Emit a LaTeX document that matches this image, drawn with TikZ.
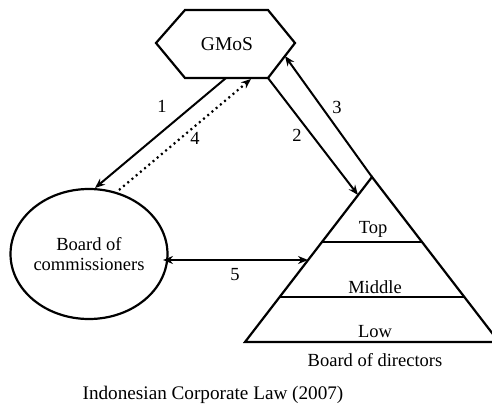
\documentclass[tikz,border=0pt]{standalone}
\usepackage{fontspec}
\setmainfont{Liberation Serif}
\usetikzlibrary{shapes.geometric,arrows.meta}
\begin{document}
\begin{tikzpicture}[x=1pt,y=-1pt,
  shape line/.style={line width=2.2pt, line join=miter},
  conn/.style={line width=2pt, -{Stealth[length=10pt,width=8pt]}},
  dotconn/.style={line width=2.2pt, dash pattern=on 2pt off 3.5pt, -{Stealth[length=10pt,width=8pt]}},
  txt/.style={font=\fontsize{18.5}{20.5}\selectfont, inner sep=0pt, align=center},
  lbl/.style={font=\fontsize{18.5}{20}\selectfont, inner sep=0pt}]
\useasboundingbox (0,0) rectangle (492,404);
% hexagon GMoS
\coordinate (hA) at (156,43);
\coordinate (hB) at (185,10);
\coordinate (hC) at (268,10);
\coordinate (hD) at (295,43);
\coordinate (hE) at (268,78);
\coordinate (hF) at (185,78);
\draw[shape line] (hA) -- (hB) -- (hC) -- (hD) -- (hE) -- (hF) -- cycle;
\node[txt, font=\fontsize{19.5}{21}\selectfont] (gmos) at (227,44) {GMoS};
% board of commissioners
\node[draw, shape line, ellipse, minimum width=148pt, minimum height=130pt, inner sep=0pt, txt] (bc) at (89,254) {Board of\\commissioners};
% pyramid
\coordinate (apex) at (372,177);
\coordinate (bl) at (245,342);
\coordinate (br) at (499,342);
\draw[shape line] (apex) -- (bl) -- (br) -- cycle;
\coordinate (tl) at (322,242);
\coordinate (tr) at (422,242);
\coordinate (ml) at (280,297);
\coordinate (mr) at (464,297);
\draw[shape line] (tl) -- (tr);
\draw[shape line] (ml) -- (mr);
\node[txt] (top) at (373,229) {Top};
\node[txt] (mid) at (375,287) {Middle};
\node[txt] (low) at (375,332) {Low};
\node[txt] (bod) at (375,360) {Board of directors};
\node[txt, font=\fontsize{19.2}{21}\selectfont] (cap) at (213,395) {Indonesian Corporate Law (2007)};
% connector endpoints
\coordinate (h1) at (226,78);
\coordinate (h4) at (251,79);
\coordinate (h3) at (285,56);
\coordinate (t2) at (358,195);
\coordinate (t5) at (308,260);
\coordinate (c1) at (95,188);
\coordinate (c4) at (119,190);
\coordinate (c5) at (163,260);
% connectors
\draw[conn] (h1) -- (c1);
\draw[dotconn] (c4) -- (h4);
\draw[conn] (hE) -- (t2);
\draw[conn] (apex) -- (h3);
\draw[conn, {Stealth[length=10pt,width=8pt]}-{Stealth[length=10pt,width=8pt]}] (c5) -- (t5);
% labels
\node[lbl] (l1) at (162,106) {1};
\node[lbl] (l4) at (195,138) {4};
\node[lbl] (l2) at (297,135) {2};
\node[lbl] (l3) at (337,107) {3};
\node[lbl] (l5) at (235,275) {5};
\end{tikzpicture}
\end{document}
